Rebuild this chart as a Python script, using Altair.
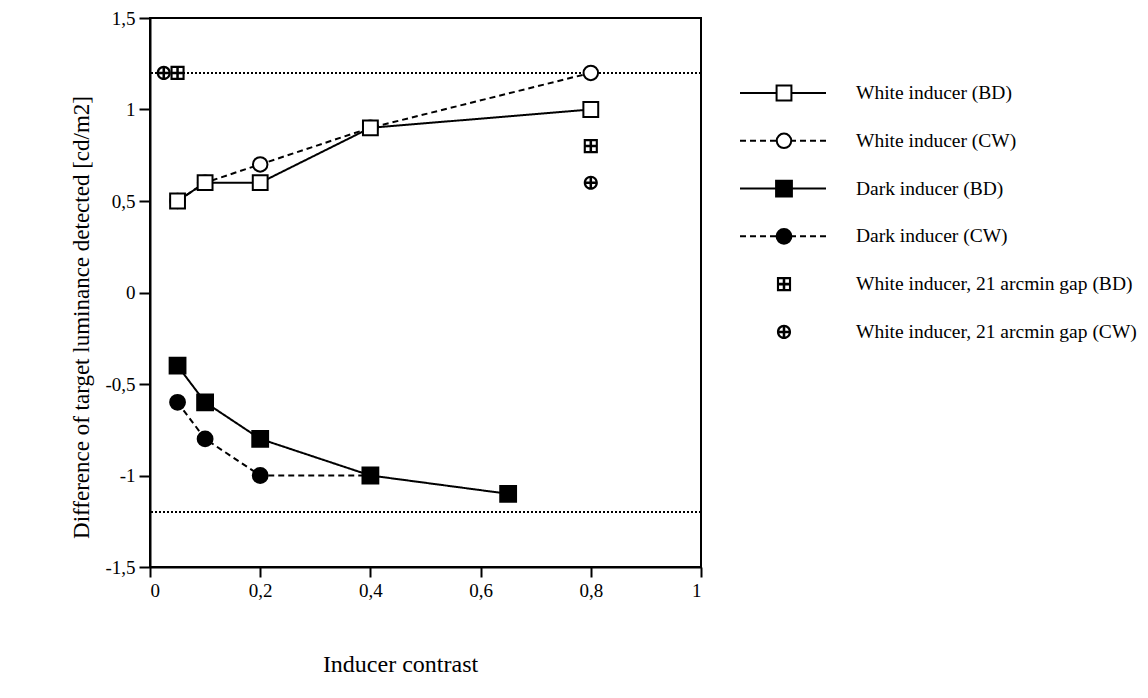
import altair as alt
import pandas as pd

# ---- data ----
white_bd_x = [0.05, 0.1, 0.2, 0.4, 0.8]
white_bd_y = [0.5, 0.6, 0.6, 0.9, 1.0]
white_cw_x = [0.05, 0.1, 0.2, 0.4, 0.8]
white_cw_y = [0.5, 0.6, 0.7, 0.9, 1.2]
dark_bd_x = [0.05, 0.1, 0.2, 0.4, 0.65]
dark_bd_y = [-0.4, -0.6, -0.8, -1.0, -1.1]
dark_cw_x = [0.05, 0.1, 0.2, 0.4]
dark_cw_y = [-0.6, -0.8, -1.0, -1.0]
gap_bd_x = [0.05, 0.8]
gap_bd_y = [1.2, 0.8]
gap_cw_x = [0.025, 0.8]
gap_cw_y = [1.2, 0.6]
ref_y = [1.2, -1.2]

x_ticks = [0, 0.2, 0.4, 0.6, 0.8, 1]
y_ticks = [-1.5, -1, -0.5, 0, 0.5, 1, 1.5]

labels = [
    "White inducer (BD)",
    "White inducer (CW)",
    "Dark inducer (BD)",
    "Dark inducer (CW)",
    "White inducer, 21 arcmin gap (BD)",
    "White inducer, 21 arcmin gap (CW)",
]
styles = ["solid", "dashed", "solid", "dashed", "none", "none"]

HATCH = ("M-1,-1H1V1H-1Z "
         "M-0.7,-0.7V-0.18H-0.18V-0.7Z M0.18,-0.7V-0.18H0.7V-0.7Z "
         "M-0.7,0.18V0.7H-0.18V0.18Z M0.18,0.18V0.7H0.7V0.18Z")
CROSS = ("M1,0A1,1,0,1,1,-1,0A1,1,0,1,1,1,0Z "
         "M-0.18,-0.18V-0.656A0.68,0.68,0,0,0,-0.656,-0.18Z "
         "M0.18,-0.18H0.656A0.68,0.68,0,0,0,0.18,-0.656Z "
         "M0.18,0.18V0.656A0.68,0.68,0,0,0,0.656,0.18Z "
         "M-0.18,0.18H-0.656A0.68,0.68,0,0,0,-0.18,0.656Z")
shapes = ["square", "circle", "square", "circle", HATCH, CROSS]
fills = ["white", "white", "black", "black", "black", "black"]
outline = ["black", "black", "black", "black", "transparent", "transparent"]
sizes = [220, 210, 250, 220, 200, 200]

FONT = "Liberation Serif"
LABEL_EXPR = "replace(replace(format(datum.value, '.1~f'), '.', ','), '\u2212', '-')"

series_xy = [
    (white_cw_x, white_cw_y), (dark_cw_x, dark_cw_y),
    (white_bd_x, white_bd_y), (dark_bd_x, dark_bd_y),
    (gap_bd_x, gap_bd_y), (gap_cw_x, gap_cw_y),
]
series_idx = [1, 3, 0, 2, 4, 5]
rows = []
for idx, (xs_, ys_) in zip(series_idx, series_xy):
    for xv, yv in zip(xs_, ys_):
        rows.append({"series": labels[idx], "style": styles[idx], "x": xv, "y": yv})
df = pd.DataFrame(rows)
df["order"] = range(len(df))

shape_scale = alt.Scale(domain=labels, range=shapes)
fill_scale = alt.Scale(domain=labels, range=fills)
stroke_scale = alt.Scale(domain=labels, range=outline)
size_scale = alt.Scale(type="ordinal", domain=labels, range=sizes)
dash_scale = alt.Scale(domain=["solid", "dashed"], range=[[1, 0], [6, 4]])

xs = alt.X("x:Q", scale=alt.Scale(domain=[0, 1], nice=False),
           axis=alt.Axis(values=x_ticks, title="Inducer contrast",
                         labelExpr=LABEL_EXPR, tickSize=10, titlePadding=52,
                         titleX=250))
ys = alt.Y("y:Q", scale=alt.Scale(domain=[-1.5, 1.5], nice=False),
           axis=alt.Axis(values=y_ticks, title="Difference of target luminance detected [cd/m2]",
                         labelExpr=LABEL_EXPR, tickSize=11, titlePadding=11,
                         titleY=299, titleFontSize=23))

base = alt.Chart(df)

ref = alt.Chart(pd.DataFrame({"y": ref_y})).mark_rule(
    color="black", strokeWidth=2, strokeDash=[2, 2]
).encode(y=alt.Y("y:Q"))

lines = base.transform_filter("datum.style != 'none'").mark_line(
    color="black", strokeWidth=2
).encode(
    x=xs, y=ys, detail="series:N",
    strokeDash=alt.StrokeDash("style:N", scale=dash_scale, legend=None),
)

points = base.mark_point(filled=True, strokeWidth=2, opacity=1).encode(
    x="x:Q", y="y:Q",
    shape=alt.Shape("series:N", scale=shape_scale, legend=None),
    fill=alt.Fill("series:N", scale=fill_scale, legend=None),
    stroke=alt.Stroke("series:N", scale=stroke_scale, legend=None),
    size=alt.Size("series:N", scale=size_scale, legend=None),
    order="order:Q",
)

main = alt.layer(lines, ref, points).properties(width=551, height=549)

# ---- legend panel ----
leg = pd.DataFrame({"row": list(range(6)), "series": labels, "style": styles})
ly = alt.Y("row:Q", scale=alt.Scale(domain=[-1.57, 9.92], reverse=True, nice=False), axis=None)
leg_base = alt.Chart(leg)
leg_lines = leg_base.transform_filter("datum.style != 'none'").mark_rule(
    color="black", strokeWidth=2
).encode(
    x=alt.value(0), x2=alt.value(86), y=ly,
    strokeDash=alt.StrokeDash("style:N", scale=dash_scale, legend=None),
)
leg_points = leg_base.mark_point(filled=True, strokeWidth=2, opacity=1).encode(
    x=alt.value(44), y=ly,
    shape=alt.Shape("series:N", scale=shape_scale, legend=None),
    fill=alt.Fill("series:N", scale=fill_scale, legend=None),
    stroke=alt.Stroke("series:N", scale=stroke_scale, legend=None),
    size=alt.Size("series:N", scale=size_scale, legend=None),
)
leg_text = leg_base.mark_text(align="left", baseline="middle", font=FONT, fontSize=19.5,
                              color="black").encode(
    x=alt.value(116), y=ly, text="series:N"
)
legend = alt.layer(leg_lines, leg_points, leg_text).properties(
    width=390, height=549, view=alt.ViewBackground(stroke="transparent")
)

chart = alt.hconcat(main, legend, spacing=35).properties(
    padding={"left": 61, "top": 0, "right": 0, "bottom": 0}
).configure_view(stroke="black", strokeWidth=2).configure_axis(
    domainColor="black", domainWidth=2, tickColor="black", tickWidth=2,
    labelFont=FONT, labelFontSize=19, labelColor="black", labelPadding=4,
    titleFont=FONT, titleFontSize=24, titleFontWeight="normal", titleColor="black",
    grid=False,
)

chart.save("out.html", embed_options={"renderer": "svg", "actions": False})
